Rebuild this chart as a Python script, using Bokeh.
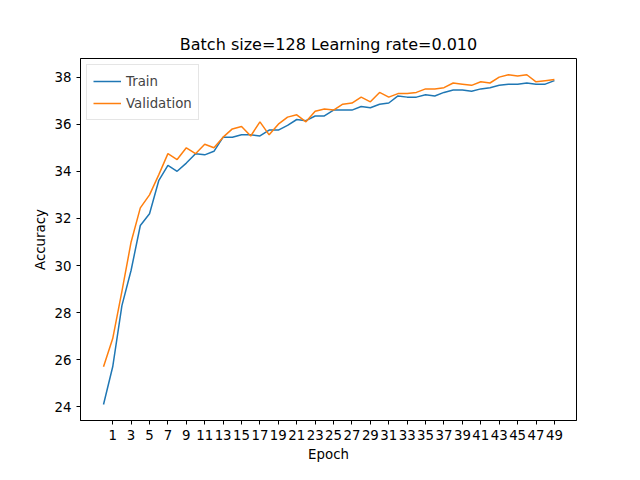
from bokeh.plotting import figure
from bokeh.models import Range1d, FixedTicker, Legend, LegendItem
from bokeh.embed import file_html
from bokeh.resources import INLINE

epochs = list(range(50))
train = [24.1, 25.7, 28.3, 29.8, 31.7, 32.2, 33.6, 34.25, 34.0, 34.35, 34.75, 34.7, 34.85, 35.45, 35.45,
         35.55, 35.55, 35.5, 35.75, 35.75, 35.95, 36.2, 36.15, 36.35, 36.35, 36.6, 36.6, 36.6, 36.75, 36.7,
         36.85, 36.9, 37.2, 37.15, 37.15, 37.25, 37.2, 37.35, 37.45, 37.45, 37.4, 37.5, 37.55, 37.65, 37.7,
         37.7, 37.75, 37.7, 37.7, 37.85]
val = [25.7, 26.9, 28.9, 31.0, 32.45, 33.0, 33.85, 34.75, 34.5, 35.0, 34.75, 35.15, 35.0, 35.45, 35.8,
       35.9, 35.5, 36.1, 35.55, 36.0, 36.3, 36.4, 36.1, 36.55, 36.65, 36.6, 36.85, 36.9, 37.15, 36.95,
       37.35, 37.15, 37.3, 37.3, 37.35, 37.5, 37.5, 37.55, 37.75, 37.7, 37.65, 37.8, 37.75, 38.0, 38.1,
       38.05, 38.1, 37.8, 37.85, 37.9]
x_ticks = list(range(1, 50, 2))
y_ticks = list(range(24, 39, 2))

p = figure(width=624, height=464, output_backend="svg", toolbar_location=None,
           x_range=Range1d(-2.5, 51.4), y_range=Range1d(23.42, 38.79),
           title="Batch size=128 Learning rate=0.010",
           min_border_left=80, min_border_right=48, min_border_top=58, min_border_bottom=37)
p.title.align = "center"
p.title.text_font = "DejaVu Sans"
p.title.text_font_size = "12pt"
p.title.text_font_style = "normal"
p.title.text_color = "black"
p.grid.visible = False
p.outline_line_color = "black"
for ax in (p.xaxis[0], p.yaxis[0]):
    ax.major_label_text_font = "DejaVu Sans"
    ax.major_label_text_font_size = "10pt"
    ax.major_label_text_color = "black"
    ax.axis_label_text_font = "DejaVu Sans"
    ax.axis_label_text_font_size = "10pt"
    ax.axis_label_text_font_style = "normal"
    ax.axis_label_text_color = "black"
    ax.axis_label_standoff = 4
    ax.minor_tick_line_color = None
    ax.major_tick_in = 0
    ax.major_tick_out = 4
p.xaxis.ticker = FixedTicker(ticks=x_ticks)
p.yaxis.ticker = FixedTicker(ticks=y_ticks)
p.xaxis.axis_label = "Epoch"
p.yaxis.axis_label = "Accuracy"

r1 = p.line(epochs, train, line_color="#1f77b4", line_width=1.5)
r2 = p.line(epochs, val, line_color="#ff7f0e", line_width=1.5)
legend = Legend(items=[LegendItem(label="Train", renderers=[r1]),
                       LegendItem(label="Validation", renderers=[r2])],
                location="top_left", label_text_font="DejaVu Sans", label_text_font_size="10pt",
                border_line_color="#cccccc", glyph_width=28, spacing=2, padding=6, margin=6)
p.add_layout(legend)

open("out.html", "w").write(file_html(p, INLINE))
